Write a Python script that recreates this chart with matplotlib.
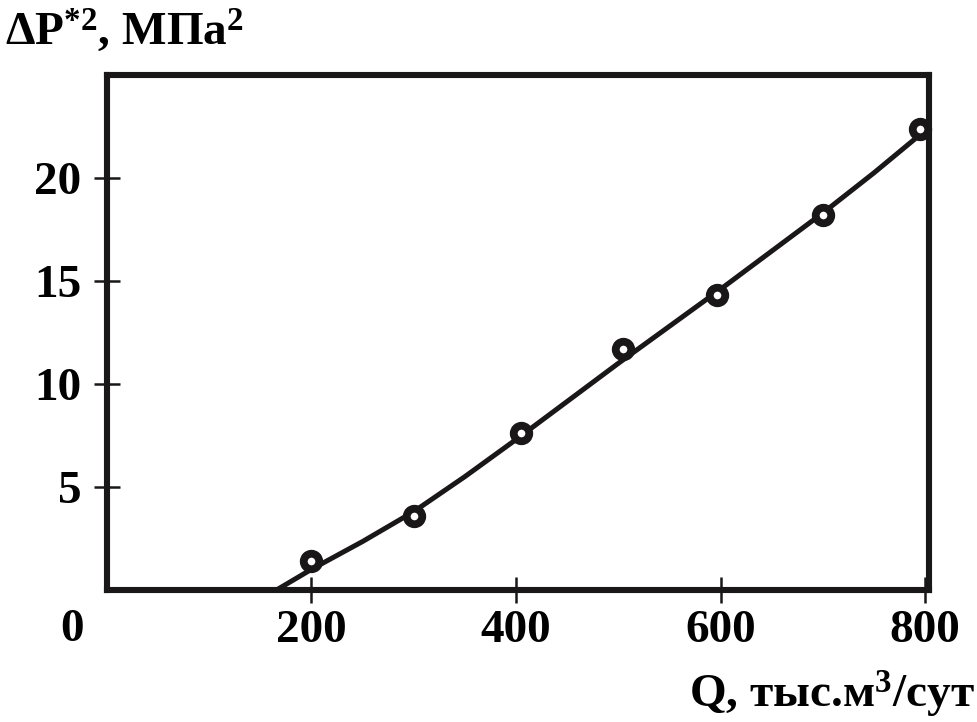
import matplotlib
matplotlib.use("Agg")
import matplotlib.pyplot as plt

plt.rcParams["font.family"] = ["Liberation Serif", "DejaVu Serif"]
plt.rcParams["font.weight"] = "bold"
plt.rcParams["mathtext.fontset"] = "custom"
plt.rcParams["mathtext.rm"] = "Liberation Serif:bold"
plt.rcParams["mathtext.bf"] = "Liberation Serif:bold"
plt.rcParams["mathtext.it"] = "Liberation Serif:bold"

# measured points
q_points = [200, 300, 405, 505, 597, 700, 795]
dp_points = [1.4, 3.6, 7.6, 11.7, 14.3, 18.2, 22.4]

# smooth curve
q_curve = [166, 200, 250, 300, 350, 400, 450, 500, 550, 600, 650, 700, 750, 795]
dp_curve = [0.0, 1.0, 2.35, 3.8, 5.5, 7.3, 9.15, 11.0, 12.8, 14.6, 16.45, 18.3, 20.25, 22.1]

x_ticks = [200, 400, 600, 800]
y_ticks = [5, 10, 15, 20]

fig = plt.figure(figsize=(9.77, 7.22), dpi=100)
ax = fig.add_axes([0.1095, 0.183, 0.8415, 0.713])

ax.plot(q_curve, dp_curve, color="#1a1718", lw=3.6, solid_capstyle="butt",
        solid_joinstyle="round", zorder=2)
ax.plot(q_points, dp_points, "o", ms=11.2, mfc="white", mec="#1a1718", mew=5.6,
        clip_on=False, zorder=3)

ax.set_xlim(0, 804)
ax.set_ylim(0, 25)
ax.set_xticks(x_ticks)
ax.set_yticks(y_ticks)
ax.tick_params(direction="inout", length=19, width=1.8, color="#1a1718",
               labelsize=34, pad=5)
ax.tick_params(axis="y", pad=9)
for sp in ax.spines.values():
    sp.set_linewidth(4.4)
    sp.set_color("#1a1718")

ax.annotate("0", xy=(0, 0), xycoords="data", xytext=(-25, -29),
            textcoords="offset points", ha="center", va="center",
            fontsize=34, fontweight="bold", annotation_clip=False)

fig.text(0.005, 0.938, r"ΔP$^{*2}$, МПа$^{2}$", fontsize=34,
         ha="left", va="baseline")
fig.text(0.998, 0.02, r"Q, тыс.м$^{3}$/сут", fontsize=34,
         ha="right", va="baseline")

fig.savefig("out.png", dpi=100)
